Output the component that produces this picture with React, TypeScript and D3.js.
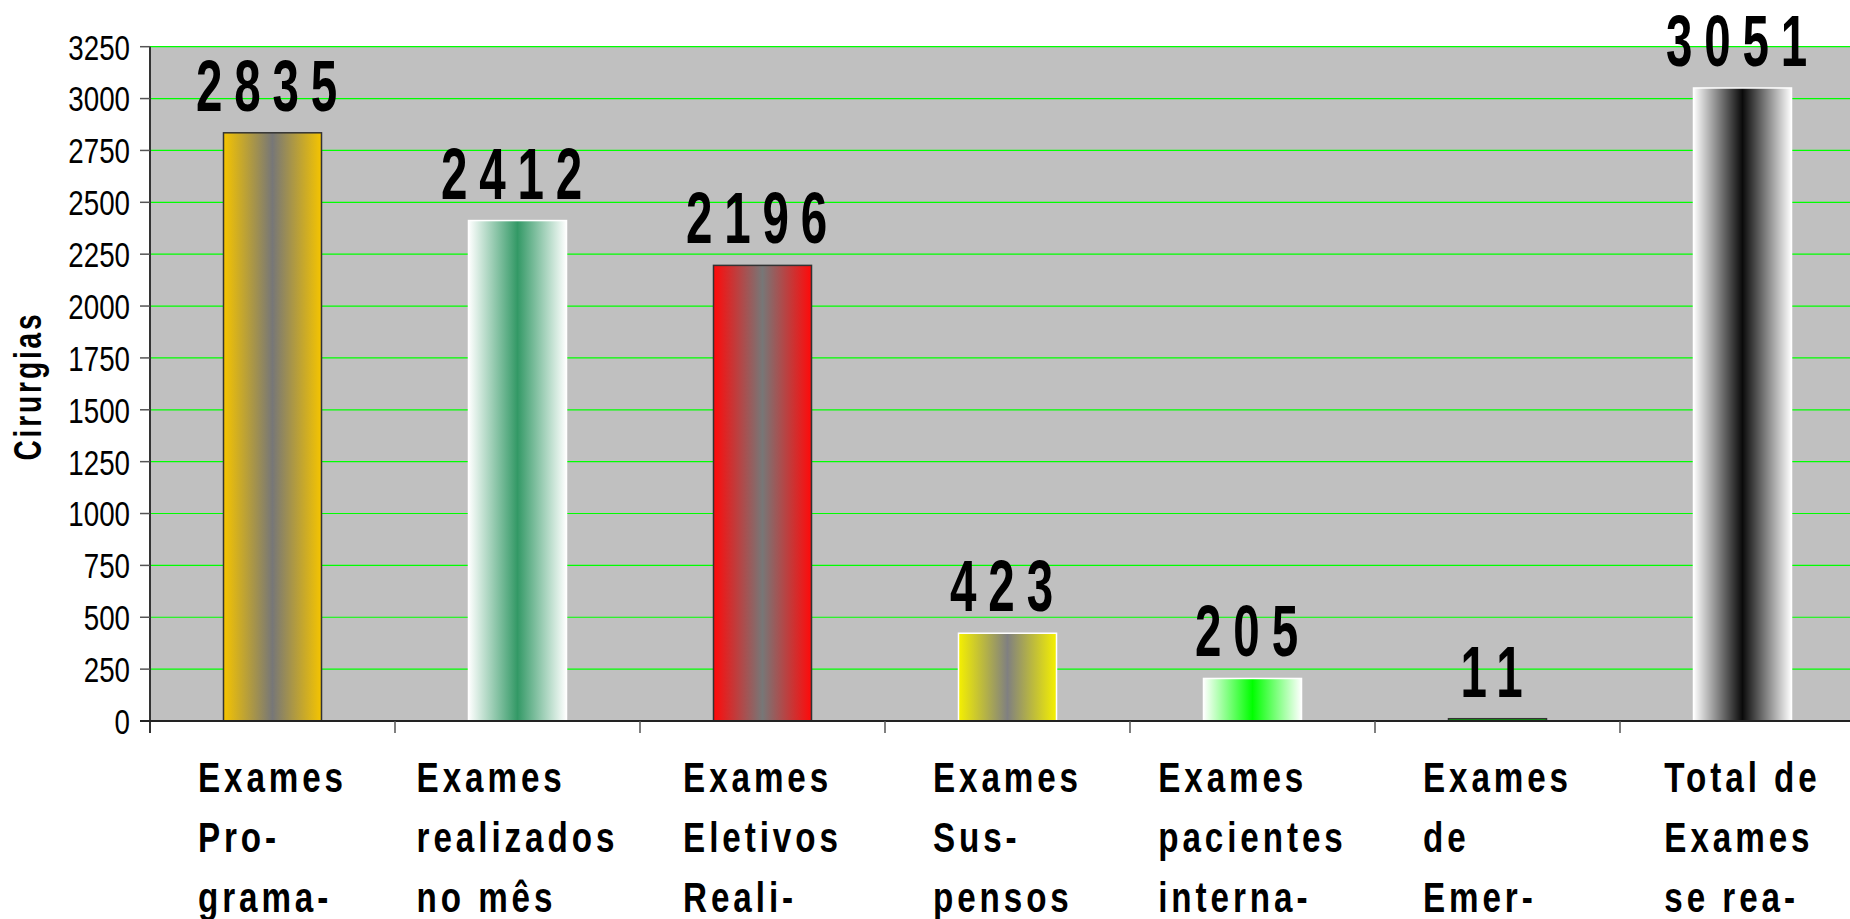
import React, { useEffect, useRef } from 'react';
import * as d3 from 'd3';

const categories = ['prog', 'real', 'elet', 'susp', 'int', 'emer', 'total'];
const values = [2835, 2412, 2196, 423, 205, 11, 3051];
const labelLines = [
  ['Exames', 'Pro-', 'grama-'],
  ['Exames', 'realizados', 'no mês'],
  ['Exames', 'Eletivos', 'Reali-'],
  ['Exames', 'Sus-', 'pensos'],
  ['Exames', 'pacientes', 'interna-'],
  ['Exames', 'de', 'Emer-'],
  ['Total de', 'Exames', 'se rea-'],
];
const yTicks = [0, 250, 500, 750, 1000, 1250, 1500, 1750, 2000, 2250, 2500, 2750, 3000, 3250];
const yTitle = 'Cirurgias';

const barEdge = ['#F5C400', '#FFFFFF', '#FF0A0A', '#F5F000', '#FFFFFF', '#00CC00', '#FFFFFF'];
const barCenter = ['#777777', '#339966', '#777777', '#808080', '#00FF00', '#00CC00', '#0A0A0A'];
const barStroke = ['#333333', '#FFFFFF', '#333333', '#FFFFFF', '#FFFFFF', '#333333', '#FFFFFF'];

export default function App() {
  const ref = useRef<SVGSVGElement>(null);

  useEffect(() => {
    const W = 1850, H = 919;
    const left = 150, top = 46.7, bottom = 721;
    const band = 245;
    const font = '"Liberation Sans", Arial, sans-serif';
    const svg = d3.select(ref.current!);
    svg.selectAll('*').remove();

    const x = d3.scaleBand<string>().domain(categories)
      .range([left, left + band * categories.length]).padding(0);
    const y = d3.scaleLinear().domain([0, 3250]).range([bottom, top]);
    const bw = x.bandwidth() * 0.4;

    svg.append('rect').attr('width', W).attr('height', H).attr('fill', '#fff');

    const defs = svg.append('defs');
    categories.forEach((c, i) => {
      const g = defs.append('linearGradient').attr('id', 'grad' + i)
        .attr('x1', 0).attr('x2', 1).attr('y1', 0).attr('y2', 0);
      g.append('stop').attr('offset', 0).attr('stop-color', barEdge[i]);
      g.append('stop').attr('offset', 0.5).attr('stop-color', barCenter[i]);
      g.append('stop').attr('offset', 1).attr('stop-color', barEdge[i]);
    });

    // plot area
    svg.append('rect').attr('x', left).attr('y', y(3250))
      .attr('width', W - left).attr('height', y(0) - y(3250)).attr('fill', '#C0C0C0');

    // gridlines
    svg.append('g').selectAll('line').data(yTicks.filter(t => t > 0)).join('line')
      .attr('x1', left).attr('x2', W)
      .attr('y1', d => y(d)).attr('y2', d => y(d))
      .attr('stroke', '#00FF00').attr('stroke-width', 1.2);

    // y axis
    svg.append('line').attr('x1', left).attr('x2', left).attr('y1', y(3250)).attr('y2', y(0) + 12)
      .attr('stroke', '#333').attr('stroke-width', 2);
    svg.append('g').selectAll('line').data(yTicks).join('line')
      .attr('x1', left - 10).attr('x2', left)
      .attr('y1', d => y(d)).attr('y2', d => y(d))
      .attr('stroke', '#555').attr('stroke-width', 1.5);
    svg.append('g').selectAll('text').data(yTicks).join('text')
      .attr('transform', d => `translate(${left - 20},${y(d) + 12.9}) scale(0.77,1)`)
      .attr('text-anchor', 'end')
      .attr('font-family', font).attr('font-size', 36).attr('fill', '#000')
      .text(d => String(d));

    // y title
    svg.append('text')
      .attr('transform', `translate(41,386) rotate(-90) scale(0.72,1)`)
      .attr('text-anchor', 'middle')
      .attr('font-family', font).attr('font-size', 39).attr('font-weight', 'bold')
      .attr('letter-spacing', 4)
      .text(yTitle);

    // bars
    svg.append('g').selectAll('rect').data(values).join('rect')
      .attr('x', (d, i) => x(categories[i])! + (x.bandwidth() - bw) / 2)
      .attr('y', d => y(d))
      .attr('width', bw)
      .attr('height', d => y(0) - y(d))
      .attr('fill', (d, i) => `url(#grad${i})`)
      .attr('stroke', (d, i) => barStroke[i])
      .attr('stroke-width', 1.5);

    // x axis
    svg.append('line').attr('x1', left - 10).attr('x2', W).attr('y1', y(0)).attr('y2', y(0))
      .attr('stroke', '#222').attr('stroke-width', 2);
    svg.append('g').selectAll('line').data(categories.slice(1)).join('line')
      .attr('x1', d => x(d)!).attr('x2', d => x(d)!)
      .attr('y1', y(0)).attr('y2', y(0) + 12)
      .attr('stroke', '#555').attr('stroke-width', 1.5);

    // value labels
    svg.append('g').selectAll('text').data(values).join('text')
      .attr('transform', (d, i) => `translate(${x(categories[i])! + x.bandwidth() / 2},${y(d) - 22}) scale(0.66,1)`)
      .attr('text-anchor', 'middle')
      .attr('font-family', font).attr('font-size', 72).attr('font-weight', 'bold')
      .attr('letter-spacing', 18)
      .text(d => String(d));

    // category labels
    const sx = 0.79;
    const baselines = [792, 852, 912];
    categories.forEach((c, i) => {
      const g = svg.append('g');
      const texts = labelLines[i].map((line) =>
        g.append('text')
          .attr('font-family', font).attr('font-size', 42).attr('font-weight', 'bold')
          .attr('letter-spacing', 5)
          .text(line)
      );
      const maxW = d3.max(texts, t => (t.node() as SVGTextElement).getComputedTextLength() * sx) || 0;
      const x0 = x(c)! + x.bandwidth() / 2 - maxW / 2;
      texts.forEach((t, j) => t.attr('transform', `translate(${x0},${baselines[j]}) scale(${sx},1)`));
    });
  }, []);

  return (
    <svg ref={ref} width={1850} height={919}
      style={{ position: 'absolute', left: 0, top: 0, display: 'block' }} />
  );
}
